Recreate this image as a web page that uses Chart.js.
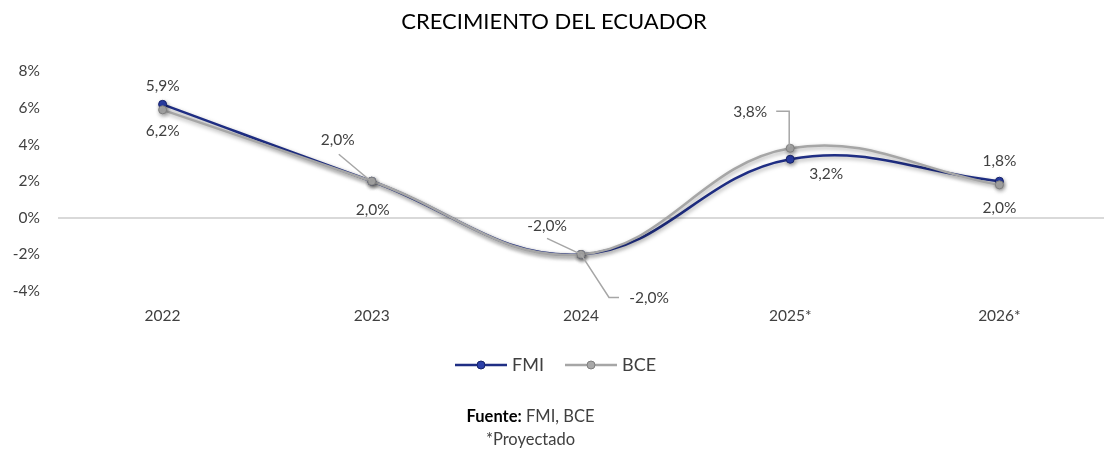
<!DOCTYPE html>
<html lang="es">
<head>
<meta charset="utf-8">
<title>Crecimiento del Ecuador</title>
<script src="https://cdn.jsdelivr.net/npm/chart.js@4/dist/chart.umd.min.js"></script>
<style>
  html, body { margin: 0; padding: 0; background: #fff; }
  #wrap { position: relative; width: 1109px; height: 450px; }
  #growth { display: block; }
  .foot {
    position: absolute; left: -24px; width: 1109px; text-align: center;
    font-family: Lato, 'Open Sans', sans-serif; font-size: 16.5px; color: #404040;
  }
  .foot b { color: #000; }
</style>
</head>
<body>
<div id="wrap">
  <canvas id="growth" width="1109" height="450"></canvas>
  <div class="foot" style="top:406px"><b>Fuente:</b> FMI, BCE</div>
  <div class="foot" style="top:429px">*Proyectado</div>
</div>
<script>
// ---- Datos ----
const years = ['2022', '2023', '2024', '2025*', '2026*'];
const fmi = [6.2, 2.0, -2.0, 3.2, 2.0];
const bce = [5.9, 2.0, -2.0, 3.8, 1.8];
const yTicks = [-4, -2, 0, 2, 4, 6, 8];

const NAVY = '#1f2e84';
const GRAY = '#a6a6a6';
const TEXT = '#404040';
const FONT = 'Lato, "Open Sans", sans-serif';

const fmtPct = v => v.toFixed(1).replace('.', ',') + '%';

// label placement per point: [dx, dy] from point, optional leader path (relative)
const labelLayout = {
  FMI: [
    { dx: 0, dy: 27 },
    { dx: 1, dy: 29 },
    { dx: 68, dy: 44, leader: [[0, 0], [28, 43], [38, 43]] },
    { dx: 36, dy: 15 },
    { dx: 0, dy: 27 },
  ],
  BCE: [
    { dx: 0, dy: -24 },
    { dx: -34, dy: -41, leader: [[-33, -27], [-2, -1]] },
    { dx: -34, dy: -28, leader: [[-34, -16], [-2, -1]] },
    { dx: -40, dy: -36, leader: [[-14, -37], [-1, -37], [-1, -1]] },
    { dx: 0, dy: -24 },
  ],
};

// soft drop shadow under the lines
const shadowPlugin = {
  id: 'lineShadow',
  beforeDatasetDraw(chart) {
    const ctx = chart.ctx;
    ctx.save();
    ctx.shadowColor = 'rgba(0,0,0,0.35)';
    ctx.shadowBlur = 4;
    ctx.shadowOffsetX = 1;
    ctx.shadowOffsetY = 2;
  },
  afterDatasetDraw(chart) {
    chart.ctx.restore();
  },
};

// value labels with leader lines
const labelPlugin = {
  id: 'valueLabels',
  afterDatasetsDraw(chart) {
    const ctx = chart.ctx;
    ctx.save();
    ctx.font = '15.5px ' + FONT;
    ctx.fillStyle = TEXT;
    ctx.textAlign = 'center';
    ctx.textBaseline = 'middle';
    chart.data.datasets.forEach((ds, i) => {
      const meta = chart.getDatasetMeta(i);
      const layout = labelLayout[ds.label];
      meta.data.forEach((pt, j) => {
        const l = layout[j];
        if (l.leader) {
          ctx.strokeStyle = GRAY;
          ctx.lineWidth = 1.5;
          ctx.beginPath();
          l.leader.forEach(([x, y], k) => {
            if (k === 0) ctx.moveTo(pt.x + x, pt.y + y);
            else ctx.lineTo(pt.x + x, pt.y + y);
          });
          ctx.stroke();
        }
        ctx.fillText(fmtPct(ds.data[j]), pt.x + l.dx, pt.y + l.dy);
      });
    });
    ctx.restore();
  },
};

// legend: line + marker + text, centred under the axis
const legendPlugin = {
  id: 'lineLegend',
  afterDraw(chart) {
    const ctx = chart.ctx;
    const items = [
      { ds: chart.data.datasets[0], x: 455 },
      { ds: chart.data.datasets[1], x: 565 },
    ];
    const y = 365;
    ctx.save();
    items.forEach(({ ds, x }) => {
      ctx.strokeStyle = ds.borderColor;
      ctx.lineWidth = 2.5;
      ctx.beginPath();
      ctx.moveTo(x, y);
      ctx.lineTo(x + 52, y);
      ctx.stroke();
      ctx.fillStyle = ds.pointBackgroundColor;
      ctx.strokeStyle = ds.pointBorderColor;
      ctx.lineWidth = 1;
      ctx.beginPath();
      ctx.arc(x + 26, y, 4, 0, Math.PI * 2);
      ctx.fill();
      ctx.stroke();
      ctx.fillStyle = TEXT;
      ctx.font = '18px ' + FONT;
      ctx.textAlign = 'left';
      ctx.textBaseline = 'middle';
      ctx.fillText(ds.label, x + 57, y);
    });
    ctx.restore();
  },
};

const ctx = document.getElementById('growth').getContext('2d');
new Chart(ctx, {
  type: 'line',
  data: {
    labels: years,
    datasets: [
      {
        label: 'FMI',
        data: fmi,
        borderColor: NAVY,
        borderWidth: 2.5,
        pointBackgroundColor: '#2b3fa8',
        pointBorderColor: '#17236a',
        pointBorderWidth: 1,
        pointRadius: 4,
        tension: 0.4,
        order: 1,
      },
      {
        label: 'BCE',
        data: bce,
        borderColor: GRAY,
        borderWidth: 2.5,
        pointBackgroundColor: '#a8a8a8',
        pointBorderColor: '#7f7f7f',
        pointBorderWidth: 1,
        pointRadius: 4,
        tension: 0.4,
        order: 0,
      },
    ],
  },
  options: {
    responsive: false,
    animation: false,
    layout: { padding: { left: 0, right: 1, bottom: 119 } },
    plugins: {
      legend: { display: false },
      tooltip: { enabled: false },
      title: {
        display: true,
        text: 'CRECIMIENTO DEL ECUADOR',
        color: '#000',
        font: { size: 22, family: FONT, weight: 'normal' },
        padding: { top: 9, bottom: 36 },
      },
    },
    scales: {
      x: {
        offset: true,
        grid: { display: false },
        border: { display: false },
        ticks: { color: TEXT, font: { size: 15.5, family: FONT }, padding: 8 },
        afterFit: s => { s.height = 40; },
      },
      y: {
        min: -4,
        max: 8,
        afterBuildTicks: s => { s.ticks = yTicks.map(v => ({ value: v })); },
        grid: {
          drawTicks: false,
          lineWidth: 2,
          color: c => (c.tick && c.tick.value === 0 ? '#d9d9d9' : 'rgba(0,0,0,0)'),
        },
        border: { display: false },
        ticks: {
          color: TEXT,
          font: { size: 15.5, family: FONT },
          padding: 18,
          callback: v => v + '%',
        },
        afterFit: s => { s.width = 58; },
      },
    },
  },
  plugins: [shadowPlugin, labelPlugin, legendPlugin],
});
</script>
</body>
</html>
